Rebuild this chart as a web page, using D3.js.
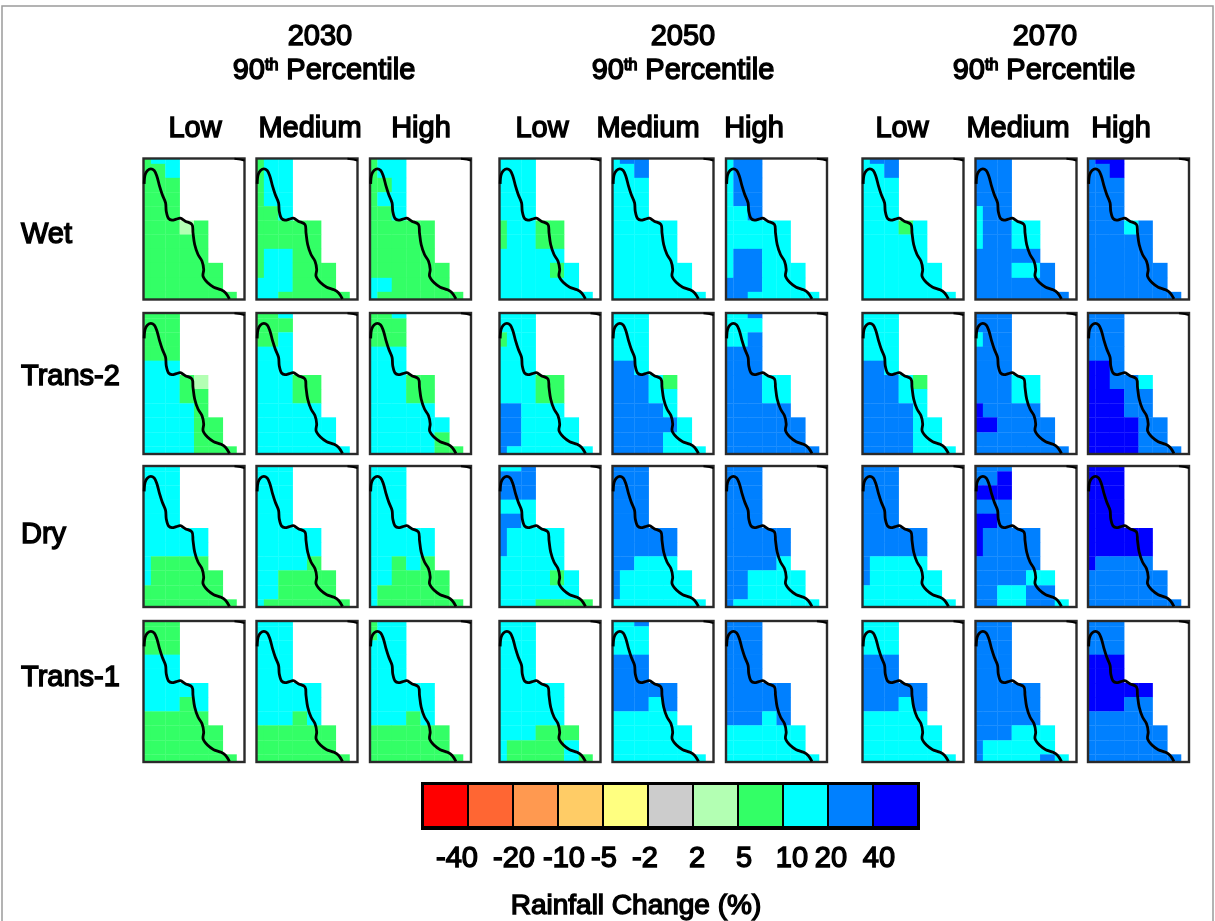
<!DOCTYPE html>
<html>
<head>
<meta charset="utf-8">
<script src="https://cdn.jsdelivr.net/npm/d3@7"></script>
<style>
body { margin: 0; background: #fff; }
svg { display: block; filter: blur(0.7px); }
text { font-family: "Liberation Sans", Arial, sans-serif; fill: #000; stroke: #000; stroke-width: 1.4px; }
</style>
</head>
<body>
<script>
// rainfall class per grid cell, one string per map, rows split by spaces
// l 2-5, g 5-10, c 10-20, b 20-40, d >40
// order in each list: 2030 low/med/high, 2050 low/med/high, 2070 low/med/high
var wet = [
  "gcc ggc ggg ggg ggg ggglg ggggg ggggg gggggg gggggg ggggggg",
  "gcc gcc gcc gcc ggc ggggg ggggg gccgg gccggg cccggg ccggggg",
  "gcc gcc ggc gcc ggc ggggg ggggg ggggg gggggg ccgggg cgggggg",
  "ccc ccc ccc ccc ccc gccgg gccgg ccccc ccccgc cccccc ccccccc",
  "cbb ccb ccc ccc ccc ccccc ccccc ccccc cccccc cccccc ccccccc",
  "cbb cbb cbb cbb ccb ccccc ccccc cbbcc cbbccc bbbccc bbccccc",
  "cbb ccb ccc ccc ccc cccgc ccccc ccccc cccccc cccccc ccccccc",
  "bbb bbb bbb bbb cbb cbbcc cbbcc bbbbb bbbccb bbbbbb bbbbbbb",
  "bdd bbd bbb bbb bbb bbbcb bbbbb bbbbb bbbbbb bbbbbb bbbbbbb"
];
var trans2 = [
  "ggg ggg ggg ggg ccc cccgl cccgg ccccg ccccgg ccccgg ccccggg",
  "ggc ggg ggc ccc ccc cccgg cccgg ccccc cccccc cccccc ccccccc",
  "ggc ggg ggg ccc ccc cccgg cccgg ccccc cccccc cccccg cccccgg",
  "ccc ccc gcc ccc ccc cccgg cccgg bbccc bbcccc bbcccc bcccccc",
  "ccc ccc ccc ccc bbc bbbcg bbbcc bbbbc bbbbbc bbbbcc bbbbccc",
  "ccb ccc ccb bbb bbb bbbcc bbbcc bbbbb bbbbbb bbbbbb bbbbbbb",
  "ccc ccc ccc ccc bbc bbbcg bbbcc bbbbc bbbbcc bbbbcc bbbbccc",
  "bbb bbb cbb bbb bbb bbbcc bbbcc dbbbb ddbbbb bbbbbb bbbbbbb",
  "bbb bbb bbb bbb ddb ddbbc dddbb dddbb ddddbb ddddbb ddddbbb"
];
var dry = [
  "ccc ccc ccc ccc ccc ccccc ccccc cgggg cggggg gggggg ggggggg",
  "ccc ccc ccc ccc ccc ccccc ccccc ccccg ccgggg ccgggg cgggggg",
  "ccc ccc ccc ccc ccc ccccc ccccc ccgcg ccgggg cggggg cgggggg",
  "ccb bbb bbb ccc bbc bcccc bcccc ccccc ccccgc cccccc cccgggg",
  "bbb bbb bbb bbb bbb bbbbb bbbbb bbccc bccccc bccccc ccccccc",
  "bbb bbb bbb bbb bbb bbbbb bbbbb bbbbc bbcccc bbcccc bcccccc",
  "bbb bbb bbb bbb bbb bbbbb bbbbb bcccc bccccc cccccc ccccccc",
  "bbb bbd ddd bbb ddb dbbbb dbbbb bbbbb bbbbcc bbccbb bbccbbc",
  "ddd ddd ddd ddd ddd ddddd ddddd dbbbb bbbbbb bbbbbb bbbbbbb"
];
var trans1 = [
  "ggg ggg ggg ccc ccc ccccc cccgc ggggg gggggg gggggg ggggggg",
  "ccc ccc ccc ccc ccc ccccc ccccc cccgc gggggg gggggg ggggggg",
  "gcc gcc ccc ccc ccc ccccc ccccc cccgc gggggg gggggg ggggggg",
  "ccc ccc ccc ccc ccc ccccc ccccc ccccc cccggg cggggc cggggcg",
  "ccb ccc ccc bbb bbb bbbbb bbbcb ccccc cccccc cccccc ccccccc",
  "bbb bbb bbb bbb bbb bbbbb bbbbb bbbcb cccccc cccccc ccccccc",
  "ccc ccc ccc bbb bbb bbbbb bbbcb ccccc cccccc cccccc ccccccc",
  "bbb bbb bbb bbb bbb bbbbb bbbbb bbbbb bbbccc bccccc bccccbc",
  "bbb bbb bbb ddd ddd ddddd dddbb bbbbb bbbbbb bbbbbb bbbbbbb"
];

var scenarios = ["Wet", "Trans-2", "Dry", "Trans-1"];
var years = ["2030", "2050", "2070"];
var emissions = ["Low", "Medium", "High"];

// map units, same grid for all maps
var colEdges = [0, 22, 65, 108, 151, 193, 237, 278];
var rowEdges = [0, 16, 58, 101, 143, 186, 228, 271, 313, 358, 400, 423];
var coastX = [2, 5, 12, 22, 32, 40, 48, 56, 66, 68, 75, 85, 98, 110, 125, 145, 148, 153, 163, 175, 180, 178, 192, 210, 232, 245, 257];
var coastY = [76, 48, 36, 31, 36, 53, 83, 108, 133, 158, 180, 185, 182, 179, 188, 198, 223, 258, 288, 308, 333, 353, 373, 386, 394, 403, 421];
var notchX = [272, 290, 302];
var notchY = [1, 3, 6];

// legend
var binCodes = ["r4", "r3", "r2", "r1", "r0", "n", "l", "g", "c", "b", "d"];
var binColors = ["#ff0000", "#ff6633", "#ff9950", "#ffcc66", "#ffff80", "#cccccc", "#b3ffb3", "#33ff66", "#00ffff", "#0080ff", "#0000ff"];
var legendTicks = ["-40", "-20", "-10", "-5", "-2", "2", "5", "10", "20", "40"];
var tickNudge = [-11, 1, 6, 1, -3, 4, 6, 9, 3, 6];

var width = 1215, height = 921;
var panelW = 101, panelH = 141;
var panelLeft = [143.5, 256.5, 370, 499.5, 612.5, 726, 862.5, 975.5, 1088];
var panelTop = [158.5, 313, 466, 621];
var headCenter = [195, 310, 421, 542, 648, 754, 902, 1018, 1121];
var yearCenter = [320, 683, 1045];
var pctCenter = [320, 679, 1040];
var rowLabelY = [243, 385, 543, 686];

var color = d3.scaleOrdinal().domain(binCodes).range(binColors);
var setX = d3.scaleLinear().domain([0, 302]).range([0, panelW]);
var setY = d3.scaleLinear().domain([0, 423]).range([0, panelH]);

var svg = d3.select("body").append("svg")
    .attr("width", width)
    .attr("height", height);

// outer frame of the figure
svg.append("rect")
    .attr("x", 2).attr("y", 6)
    .attr("width", width - 4).attr("height", height)
    .attr("fill", "#fff")
    .attr("stroke", "#9a9a9a")
    .attr("stroke-width", 1.5);

function parseMap(str) {
  var cells = [];
  str.split(" ").forEach(function(row, r) {
    row.split("").forEach(function(code, c) {
      cells.push({r: r, c: c, code: code});
    });
  });
  return cells;
}

function drawMap(str, left, top) {
  var g = svg.append("g").attr("transform", "translate(" + left + "," + top + ")");

  g.selectAll(".cell")
      .data(parseMap(str))
      .enter().append("rect")
      .attr("class", "cell")
      .attr("x", function(d) { return setX(colEdges[d.c]); })
      .attr("y", function(d) { return setY(rowEdges[d.r]); })
      .attr("width", function(d) { return setX(colEdges[d.c + 1] === undefined ? 302 : colEdges[d.c + 1]) - setX(colEdges[d.c]) + 0.3; })
      .attr("height", function(d) { return setY(rowEdges[d.r + 1]) - setY(rowEdges[d.r]) + 0.3; })
      .attr("fill", function(d) { return color(d.code); });

  g.append("rect")
      .attr("width", panelW).attr("height", panelH)
      .attr("fill", "none")
      .attr("stroke", "#2a2a2a")
      .attr("stroke-width", 2.4);

  var line = d3.line()
      .x(function(i) { return setX(coastX[i]); })
      .y(function(i) { return setY(coastY[i]); })
      .curve(d3.curveCatmullRom);
  g.append("path")
      .attr("d", line(d3.range(coastX.length)))
      .attr("fill", "none")
      .attr("stroke", "#000")
      .attr("stroke-width", 2.8);

  var notch = d3.line()
      .x(function(i) { return setX(notchX[i]); })
      .y(function(i) { return setY(notchY[i]); });
  g.append("path")
      .attr("d", notch(d3.range(notchX.length)))
      .attr("fill", "none")
      .attr("stroke", "#000")
      .attr("stroke-width", 2);
}

[wet, trans2, dry, trans1].forEach(function(maps, i) {
  maps.forEach(function(str, j) {
    drawMap(str, panelLeft[j], panelTop[i]);
  });
});

// headers
function label(txt, x, y, anchor, size) {
  return svg.append("text")
      .attr("x", x).attr("y", y)
      .attr("text-anchor", anchor)
      .attr("font-size", size)
      .text(txt);
}

years.forEach(function(year, i) {
  label(year, yearCenter[i], 45, "middle", 29);
  var t = label("90", pctCenter[i] + 4, 79, "middle", 29);
  t.append("tspan").attr("dy", -9).attr("font-size", 16).text("th");
  t.append("tspan").attr("dy", 9).text(" Percentile");
});

d3.range(9).forEach(function(j) {
  label(emissions[j % 3], headCenter[j], 137, "middle", 29);
});

scenarios.forEach(function(name, i) {
  label(name, 21, rowLabelY[i], "start", 29);
});

// colour bar
var legendX = d3.scaleBand().domain(binCodes).range([423, 918]);
var barTop = 783, barH = 47;
svg.append("rect")
    .attr("x", 421).attr("y", barTop - 1)
    .attr("width", 499).attr("height", barH + 1)
    .attr("fill", "#000");
svg.selectAll(".bin")
    .data(binCodes)
    .enter().append("rect")
    .attr("class", "bin")
    .attr("x", function(d) { return legendX(d) + 1; })
    .attr("y", barTop + 2)
    .attr("width", legendX.bandwidth() - 2)
    .attr("height", barH - 6)
    .attr("fill", function(d) { return color(d); });

legendTicks.forEach(function(txt, i) {
  var edge = legendX(binCodes[i + 1]);
  label(txt, edge + tickNudge[i], 867, "middle", 29);
});
label("Rainfall Change (%)", 636, 914, "middle", 28);
</script>
</body>
</html>
